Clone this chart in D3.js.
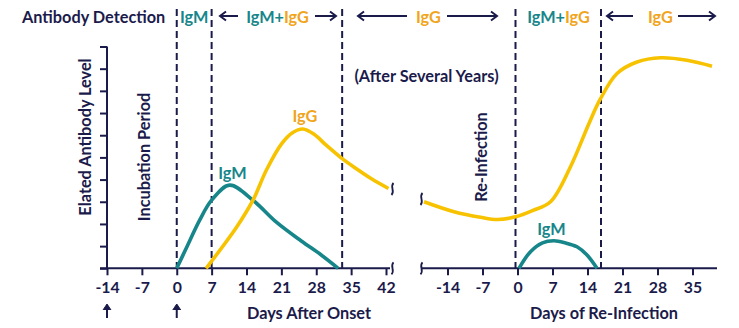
<!DOCTYPE html>
<html>
<head>
<meta charset="UTF-8">
<title>Antibody Detection</title>
<script src="https://d3js.org/d3.v7.min.js"></script>
<style>
  body { margin: 0; background: #fff; }
  svg text { font-family: Lato, "Open Sans", sans-serif; font-weight: 700; }
</style>
</head>
<body>
<div id="chart"></div>
<script>
// first infection panel (days after onset)
const ticks1 = [-14, -7, 0, 7, 14, 21, 28, 35, 42];
const igmDays1 = [0, 2, 4.6, 7, 10.6, 15.3, 20, 25, 29, 32.4];
const igmVals1 = [0, 0.95, 2.17, 3.07, 3.75, 3.07, 2.08, 1.23, 0.6, 0];
const iggDays1 = [5.9, 12, 15.3, 18, 21, 23.3, 25.3, 27.5, 30, 33, 36, 39, 42.5];
const iggVals1 = [0, 1.85, 3.07, 4.43, 5.6, 6.12, 6.28, 6.05, 5.55, 4.98, 4.5, 4.05, 3.6];
const dashes1 = [0, 7, 33.2];

// re-infection panel
const ticks2 = [-14, -7, 0, 7, 14, 21, 28, 35];
const iggDays2 = [-18.7, -12.7, -7.4, -4, -0.4, 3, 6.6, 10.6, 14.3, 16.5, 19.9, 23.9, 28.6, 33.9, 38.9];
const iggVals2 = [3.0, 2.55, 2.3, 2.2, 2.32, 2.6, 3.0, 4.58, 6.53, 7.6, 8.78, 9.3, 9.49, 9.38, 9.11];
const igmDays2 = [0.3, 2.6, 5, 7.3, 9.5, 11.9, 13.9, 15.9];
const igmVals2 = [0, 0.75, 1.15, 1.24, 1.15, 0.97, 0.6, 0];
const dashes2 = [-0.4, 16.7];

const yTicks = d3.range(0, 11);

const navy = "#1b1b4b", teal = "#17868a", gold = "#f7c300", orange = "#f0a51c";
const fs = 16.3;

const svg = d3.select("#chart").append("svg")
  .attr("width", 739).attr("height", 328);

const x1 = d3.scaleLinear().domain([-14, 42]).range([107, 386]);
const x2 = d3.scaleLinear().domain([-14, 35]).range([447.5, 692.5]);
const y = d3.scaleLinear().domain([0, 10]).range([268.3, 46.5]);

// dashed phase dividers
function dashLines(xs, days) {
  svg.selectAll(null).data(days).enter().append("line")
    .attr("x1", d => xs(d)).attr("x2", d => xs(d))
    .attr("y1", 9).attr("y2", y(0))
    .attr("stroke", navy).attr("stroke-width", 2)
    .attr("stroke-dasharray", "7,4");
}
dashLines(x1, dashes1);
dashLines(x2, dashes2);

// x axes
function xAxis(xs, ticks, xa, xb) {
  const g = svg.append("g").attr("transform", `translate(0,${y(0)})`)
    .call(d3.axisBottom(xs).tickValues(ticks).tickSize(7).tickSizeOuter(0)
      .tickFormat(d => String(d)));
  g.select(".domain").remove();
  g.append("line").attr("x1", xa).attr("x2", xb)
    .attr("stroke", navy).attr("stroke-width", 2);
  g.selectAll(".tick line").attr("stroke", navy).attr("stroke-width", 2);
  g.selectAll(".tick text").attr("fill", navy)
    .attr("font-size", 15.8).attr("dy", "0.92em")
    .style("font-family", "Lato, sans-serif").style("font-weight", 700);
}
xAxis(x1, ticks1, 100, 390);
xAxis(x2, ticks2, 422, 717);

// y axis
const ya = svg.append("g").attr("transform", "translate(107,0)")
  .call(d3.axisLeft(y).tickValues(yTicks).tickSize(7).tickFormat(""));
ya.select(".domain").attr("stroke", navy).attr("stroke-width", 2)
  .attr("d", `M0,${y(10)}V${y(0)}`);
ya.selectAll(".tick line").attr("stroke", navy).attr("stroke-width", 2);

// curves
const line = (xs) => d3.line().x(d => xs(d[0])).y(d => y(d[1]))
  .curve(d3.curveCatmullRom.alpha(0.5));
function curve(xs, days, vals, color) {
  svg.append("path").datum(d3.zip(days, vals))
    .attr("d", line(xs))
    .attr("fill", "none").attr("stroke", color).attr("stroke-width", 3.6);
}
curve(x1, igmDays1, igmVals1, teal);
curve(x1, iggDays1, iggVals1, gold);
curve(x2, iggDays2, iggVals2, gold);
curve(x2, igmDays2, igmVals2, teal);

// break marks
function squiggle(cx, cy) {
  svg.append("path")
    .attr("d", `M${cx + 1},${cy - 6} C${cx - 3},${cy - 2} ${cx + 3},${cy + 2} ${cx - 1},${cy + 6}`)
    .attr("fill", "none").attr("stroke", navy).attr("stroke-width", 1.8);
}
squiggle(392.5, 268.3);
squiggle(421.5, 268.3);
squiggle(392.5, 189);
squiggle(421.5, 199);

// text helpers
function label(txt, x, yy, color, anchor, rotate) {
  const t = svg.append("text").text(txt)
    .attr("fill", color).attr("font-size", fs)
    .attr("text-anchor", anchor || "middle")
    .attr("dominant-baseline", "central");
  if (rotate) t.attr("transform", `translate(${x},${yy}) rotate(-90)`);
  else t.attr("x", x).attr("y", yy);
  return t;
}
function mixed(x, yy) {
  const t = svg.append("text").attr("x", x).attr("y", yy)
    .attr("text-anchor", "middle").attr("dominant-baseline", "central")
    .attr("font-size", fs);
  t.append("tspan").attr("fill", teal).text("IgM+");
  t.append("tspan").attr("fill", orange).text("IgG");
}
function arrow(xa, xb, yy, headAt) {
  svg.append("line").attr("x1", xa).attr("x2", xb).attr("y1", yy).attr("y2", yy)
    .attr("stroke", navy).attr("stroke-width", 2);
  const hx = headAt === "left" ? xa : xb;
  const s = headAt === "left" ? 1 : -1;
  svg.append("path")
    .attr("d", `M${hx + s * 6},${yy - 4.5} L${hx},${yy} L${hx + s * 6},${yy + 4.5}`)
    .attr("fill", "none").attr("stroke", navy).attr("stroke-width", 2);
}

// header row
const hy = 16;
label("Antibody Detection", 22, hy, navy, "start");
label("IgM", x1(3.5), hy, teal);
arrow(220, 238, hy, "left");
mixed(277.5, hy);
arrow(315, 336, hy, "right");
arrow(358, 407, hy, "left");
label("IgG", 428.5, hy, orange);
arrow(447, 497, hy, "right");
mixed(558.5, hy);
arrow(607, 633, hy, "left");
label("IgG", 660.5, hy, orange);
arrow(678, 715, hy, "right");

// annotations
label("Elated Antibody Level", 84, 137, navy, "middle", true);
label("Incubation Period", 143, 157, navy, "middle", true);
label("Re-Infection", 480, 157, navy, "middle", true);
label("(After Several Years)", 426.5, 75, navy);
label("IgG", 305, 115, orange);
label("IgM", 232.5, 172, teal);
label("IgM", 551.5, 228, teal);
label("Days After Onset", 309, 312, navy);
label("Days of Re-Infection", 604, 312, navy);

// onset markers under the first axis
[-14, 0].forEach(d => {
  const ax = x1(d);
  svg.append("line").attr("x1", ax).attr("x2", ax).attr("y1", 305).attr("y2", 318)
    .attr("stroke", navy).attr("stroke-width", 2);
  svg.append("path").attr("d", `M${ax - 4},${310} L${ax},${304} L${ax + 4},${310}`)
    .attr("fill", navy).attr("stroke", navy).attr("stroke-width", 1);
});
</script>
</body>
</html>
